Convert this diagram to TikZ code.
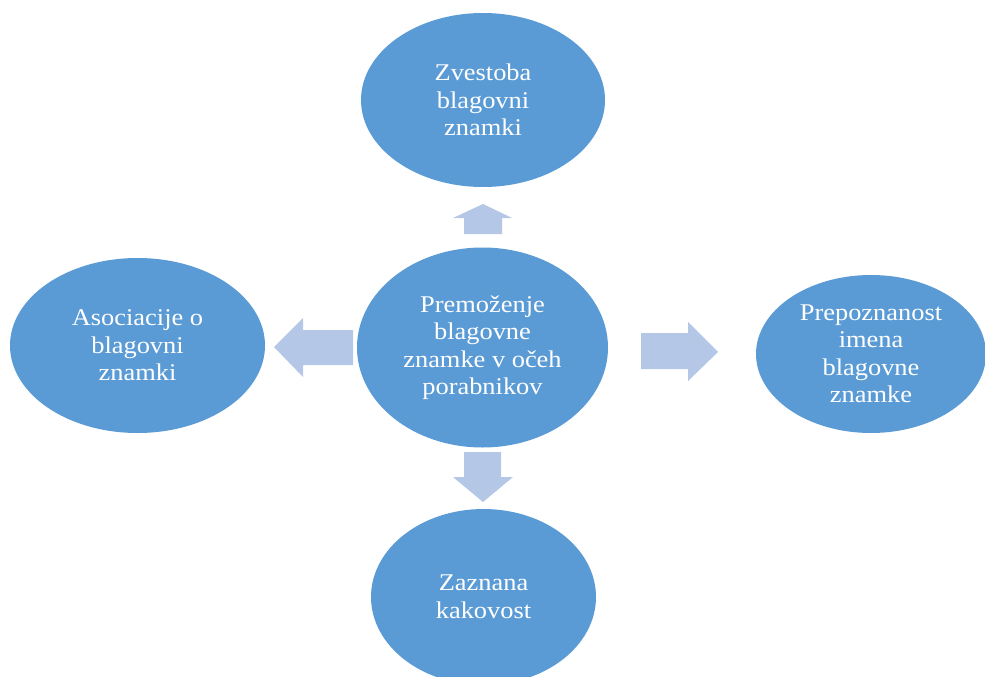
\documentclass[tikz,border=0pt]{standalone}
\usepackage{fontspec}
\setmainfont[FakeStretch=1.1]{Liberation Serif}
\usetikzlibrary{shapes.geometric}
\definecolor{ellblue}{HTML}{5B9BD5}
\definecolor{arrblue}{HTML}{B4C7E7}
\tikzset{
  bubble/.style={ellipse, fill=ellblue, draw=none, inner sep=0pt, outer sep=0pt,
    text=white, align=center, font=\fontsize{24}{27.5}\selectfont},
  blockarrow/.style={fill=arrblue, draw=none}
}
\begin{document}
\begin{tikzpicture}[x=1pt,y=-1pt]
\useasboundingbox (0,0) rectangle (985,677);
\clip (0,0) rectangle (985,677);
% ellipses
\node[bubble, minimum width=244pt, minimum height=174pt] (top) at (483,100) {Zvestoba\\blagovni\\znamki};
\node[bubble, minimum width=251pt, minimum height=200pt] (center) at (482.5,347.5) {Premoženje\\blagovne\\znamke v očeh\\porabnikov};
\node[bubble, minimum width=255pt, minimum height=175pt] (left) at (137.5,345.5) {Asociacije o\\blagovni\\znamki};
\node[bubble, minimum width=230pt, minimum height=158pt] (right) at (871,354) {Prepoznanost\\imena\\blagovne\\znamke};
\node[bubble, minimum width=225pt, minimum height=176pt] (bottom) at (483.5,597) {Zaznana\\kakovost};
% block arrows
\fill[blockarrow] (464,234) -- (464,218) -- (453,218) -- (483,204) -- (512,218) -- (502,218) -- (502,234) -- cycle;
\fill[blockarrow] (353,330) -- (303,330) -- (303,318) -- (274,347) -- (303,377) -- (303,365) -- (353,365) -- cycle;
\fill[blockarrow] (641,333) -- (688,333) -- (688,322) -- (718,352) -- (688,381) -- (688,369) -- (641,369) -- cycle;
\fill[blockarrow] (464,452) -- (501,452) -- (501,477) -- (513,477) -- (483,502) -- (453,477) -- (464,477) -- cycle;
\end{tikzpicture}
\end{document}
